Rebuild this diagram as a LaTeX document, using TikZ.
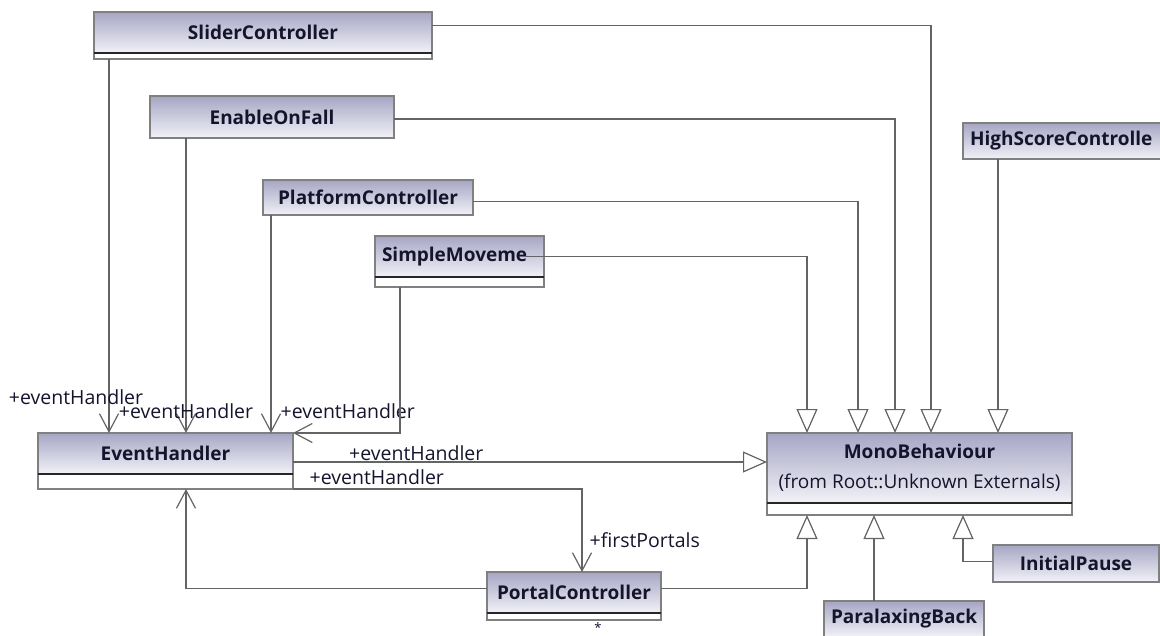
\documentclass[tikz,border=0pt]{standalone}
\usetikzlibrary{arrows.meta, positioning}
\usepackage{xcolor}
\usepackage{fontspec}
\setmainfont{Open Sans}
\definecolor{headtop}{RGB}{166,166,196}
\definecolor{headbot}{RGB}{242,242,248}
\definecolor{linegray}{RGB}{100,100,100}
\definecolor{classtext}{RGB}{20,20,45}
\def\classfont{\fontsize{19}{23}\selectfont\bfseries}
\def\labelfont{\fontsize{19.5}{22}\selectfont}

\begin{document}
\begin{tikzpicture}[x=1pt, y=-1pt, line width=1.2pt]
    \tikzstyle{class}=[rectangle, anchor=north west, outer sep=0pt, inner sep=6pt, draw=black!50, line width=1.5pt, top color=headtop, bottom color=headbot, font=\classfont, text=classtext]
    \tikzstyle{cutclass}=[class, align=left, inner xsep=7pt]
    \tikzstyle{compart}=[rectangle, outer sep=0pt, inner sep=0pt, draw=black!50, line width=1.5pt, fill=white]
    \tikzstyle{divider}=[draw=black!85, line width=1.5pt]
    \tikzstyle{gen}=[-{Triangle[open, length=24pt, width=21pt]}, draw=linegray]
    \tikzstyle{assoc}=[-{Straight Barb[length=18pt, width=19pt]}, draw=linegray]
    \tikzstyle{lbl}=[font=\labelfont, text=classtext, inner sep=1pt]

    \useasboundingbox (0,0) rectangle (1160,635);

    % Draw the classes
    \node[class, minimum width=338pt, minimum height=41pt] (slider) at (94,12) {SliderController};
    \node[compart, minimum width=338pt, minimum height=6pt, below=0pt of slider] (slider-c) {};
    \node[class, minimum width=244pt, minimum height=42pt] (enable) at (150,96) {EnableOnFall};
    \node[class, minimum width=210pt, minimum height=35pt] (platform) at (263,180) {PlatformController};
    \node[cutclass, text width=155pt, minimum height=41pt] (simplemove) at (375,236) {SimpleMoveme};
    \node[compart, minimum width=169pt, minimum height=10pt, below=0pt of simplemove] (simplemove-c) {};
    \node[cutclass, text width=206pt, minimum height=36pt] (highscore) at (963,123) {HighScoreControlle};
    \node[class, minimum width=255pt, minimum height=41pt] (eventh) at (38,433) {EventHandler};
    \node[compart, minimum width=255pt, minimum height=15pt, below=0pt of eventh] (eventh-c) {};
    \node[class, minimum width=305pt, minimum height=70pt, align=center, font=\fontsize{19}{30}\selectfont] (mono) at (767,433)
        {\bfseries MonoBehaviour\\(from Root::Unknown Externals)};
    \node[compart, minimum width=305pt, minimum height=12pt, below=0pt of mono] (mono-c) {};
    \node[class, minimum width=174pt, minimum height=41pt] (portal) at (487,572) {PortalController};
    \node[compart, minimum width=174pt, minimum height=7pt, below=0pt of portal] (portal-c) {};
    \node[class, minimum width=166pt, minimum height=37pt] (initial) at (993,545) {InitialPause};
    \node[cutclass, text width=146pt, minimum height=36pt] (paralax) at (824,601) {ParalaxingBack};

    \foreach \c in {slider, simplemove, eventh, mono, portal}
        \draw[divider] (\c.south west) -- (\c.south east);

    % Generalizations into MonoBehaviour
    \draw[gen] ([yshift=7]slider.east) -| ([xshift=164]mono.north west);
    \draw[gen] ([yshift=-2]enable.east) -| ([xshift=128]mono.north west);
    \draw[gen] ([yshift=-4]platform.east) -| ([xshift=91]mono.north west);
    \draw[gen] ([xshift=-19]simplemove.east) -| ([xshift=40]mono.north west);
    \draw[gen] ([xshift=35]highscore.south west) -- ([xshift=231]mono.north west);
    \draw[gen] ([yshift=-29]eventh.north east) -- node[lbl, above, pos=0.26] {+eventHandler} ([yshift=-29]mono.north west);
    \draw[gen] ([yshift=4]portal.east) -| ([xshift=40]mono-c.south west);
    \draw[gen] ([xshift=50]paralax.north west) -- ([xshift=107]mono-c.south west);
    \draw[gen] ([yshift=2]initial.west) -| ([xshift=196]mono-c.south west);

    % Associations
    \draw[assoc] ([xshift=15]slider-c.south west) -- node[lbl, pos=0.904, xshift=-33] {+eventHandler} ([xshift=71]eventh.north west);
    \draw[assoc] ([xshift=36]enable.south west) -- node[lbl, pos=0.925] {+eventHandler} ([xshift=148]eventh.north west);
    \draw[assoc] ([xshift=8]platform.south west) -- node[lbl, pos=0.9, anchor=west, xshift=8] {+eventHandler} ([xshift=233]eventh.north west);
    \draw[assoc] ([xshift=25]simplemove-c.south west) |- (eventh.north east);
    \draw[assoc] (eventh-c.south east) -| node[lbl, pos=0.145, above, yshift=3] {+eventHandler}
        node[lbl, pos=0.81, anchor=west, xshift=6] {+firstPortals} ([xshift=95]portal.north west);
    \draw[assoc] ([yshift=4]portal.west) -| ([xshift=148]eventh-c.south west);

    \node[lbl, anchor=north, font=\fontsize{13}{14}\selectfont] (portal-mult) at ([xshift=111, yshift=-1]portal-c.south west) {*};
\end{tikzpicture}
\end{document}
